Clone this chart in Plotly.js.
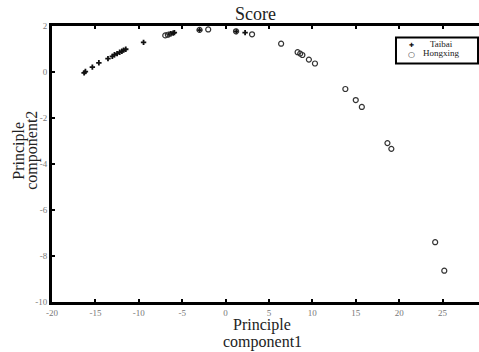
<!DOCTYPE html>
<html>
<head>
<meta charset="utf-8">
<script src="https://cdn.plot.ly/plotly-3.0.1.min.js"></script>
<style>
  html, body { margin: 0; padding: 0; background: #fff; }
  #chart { width: 479px; height: 352px; }
</style>
</head>
<body>
<div id="chart"></div>
<script>
// PCA scores of the two sample groups
const taibaiPC1 = [-16.3, -16.15, -15.35, -14.6, -13.55, -13.05, -12.8, -12.5, -12.2, -11.95, -11.75, -11.5, -9.45, -6.5, -6.3, -6.05, -5.9, -3.0, 1.25, 2.25];
const taibaiPC2 = [-0.04, 0.02, 0.21, 0.40, 0.58, 0.68, 0.75, 0.80, 0.86, 0.90, 0.95, 0.99, 1.29, 1.64, 1.66, 1.69, 1.71, 1.82, 1.76, 1.71];

const hongxingPC1 = [-6.95, -6.65, -3.0, -2.0, 1.2, 3.05, 6.4, 8.3, 8.6, 8.85, 9.6, 10.3, 13.8, 15.0, 15.7, 18.65, 19.1, 24.15, 25.2];
const hongxingPC2 = [1.59, 1.62, 1.83, 1.85, 1.77, 1.64, 1.23, 0.86, 0.80, 0.74, 0.54, 0.37, -0.74, -1.22, -1.52, -3.09, -3.34, -7.40, -8.64];

const seriesNames = ['Taibai', 'Hongxing'];
const xTicks = [-20, -15, -10, -5, 0, 5, 10, 15, 20, 25];
const yTicks = [-10, -8, -6, -4, -2, 0, 2];

const serif = 'Liberation Serif, Times New Roman, serif';

const traces = [
  {
    x: taibaiPC1, y: taibaiPC2, name: seriesNames[0], type: 'scatter', mode: 'markers',
    marker: { symbol: 'cross', size: 4.5, color: '#111' }
  },
  {
    x: hongxingPC1, y: hongxingPC2, name: seriesNames[1], type: 'scatter', mode: 'markers',
    marker: { symbol: 'circle-open', size: 5, color: '#333', line: { width: 1.2, color: '#333' } }
  }
];

const axisCommon = {
  showgrid: false, zeroline: false, showline: true, linecolor: '#000',
  ticks: 'inside', ticklen: 3, tickwidth: 2, tickcolor: '#000',
  tickfont: { family: serif, size: 9, color: '#777' }
};

// compact boxed legend drawn in paper coordinates
const legX0 = 0.8056, legX1 = 0.9977, legY0 = 0.864, legY1 = 0.958;
const legMarkX = 0.841, legTextX = 0.913;
const legRowY = [0.933, 0.897];

const layout = {
  width: 479, height: 352,
  margin: { l: 52, r: 0, t: 26, b: 50 },
  paper_bgcolor: '#fff', plot_bgcolor: '#fff',
  showlegend: false,
  xaxis: Object.assign({}, axisCommon, {
    range: [-20, 29.2], tickvals: xTicks, ticktext: xTicks.map(String),
    linewidth: 3, mirror: 'ticks'
  }),
  yaxis: Object.assign({}, axisCommon, {
    range: [-10, 2], tickvals: yTicks, ticktext: yTicks.map(String),
    linewidth: 3
  }),
  shapes: [
    { type: 'rect', xref: 'paper', yref: 'paper', x0: legX0, x1: legX1, y0: legY0, y1: legY1,
      line: { color: '#000', width: 2 }, fillcolor: '#fff', layer: 'above' }
  ],
  annotations: [
    { text: 'Score', xref: 'paper', yref: 'paper', x: 0.476, y: 1, yshift: 12,
      xanchor: 'center', yanchor: 'middle', showarrow: false,
      font: { family: serif, size: 18, color: '#222' } },
    { text: 'Principle', xref: 'paper', yref: 'paper', x: 0.492, y: 0, yshift: -23,
      xanchor: 'center', yanchor: 'middle', showarrow: false,
      font: { family: serif, size: 16, color: '#222' } },
    { text: 'component1', xref: 'paper', yref: 'paper', x: 0.492, y: 0, yshift: -40,
      xanchor: 'center', yanchor: 'middle', showarrow: false,
      font: { family: serif, size: 16, color: '#222' } },
    { text: 'Principle', xref: 'paper', yref: 'paper', x: 0, xshift: -33, y: 0.548,
      xanchor: 'center', yanchor: 'middle', textangle: -90, showarrow: false,
      font: { family: serif, size: 16, color: '#222' } },
    { text: 'component2', xref: 'paper', yref: 'paper', x: 0, xshift: -20, y: 0.548,
      xanchor: 'center', yanchor: 'middle', textangle: -90, showarrow: false,
      font: { family: serif, size: 16, color: '#222' } },
    // legend rows
    { text: '\u271A', xref: 'paper', yref: 'paper', x: legMarkX, y: legRowY[0],
      xanchor: 'center', yanchor: 'middle', showarrow: false,
      font: { family: 'DejaVu Sans', size: 6, color: '#111' } },
    { text: '\u25CB', xref: 'paper', yref: 'paper', x: legMarkX, y: legRowY[1],
      xanchor: 'center', yanchor: 'middle', showarrow: false,
      font: { family: 'DejaVu Sans', size: 8, color: '#333' } },
    { text: seriesNames[0], xref: 'paper', yref: 'paper', x: legTextX, y: legRowY[0],
      xanchor: 'center', yanchor: 'middle', showarrow: false,
      font: { family: serif, size: 9, color: '#222' } },
    { text: seriesNames[1], xref: 'paper', yref: 'paper', x: legTextX, y: legRowY[1] + 0.004,
      xanchor: 'center', yanchor: 'middle', showarrow: false,
      font: { family: serif, size: 9, color: '#222' } }
  ]
};

Plotly.newPlot('chart', traces, layout, { displayModeBar: false, staticPlot: true });
</script>
</body>
</html>
